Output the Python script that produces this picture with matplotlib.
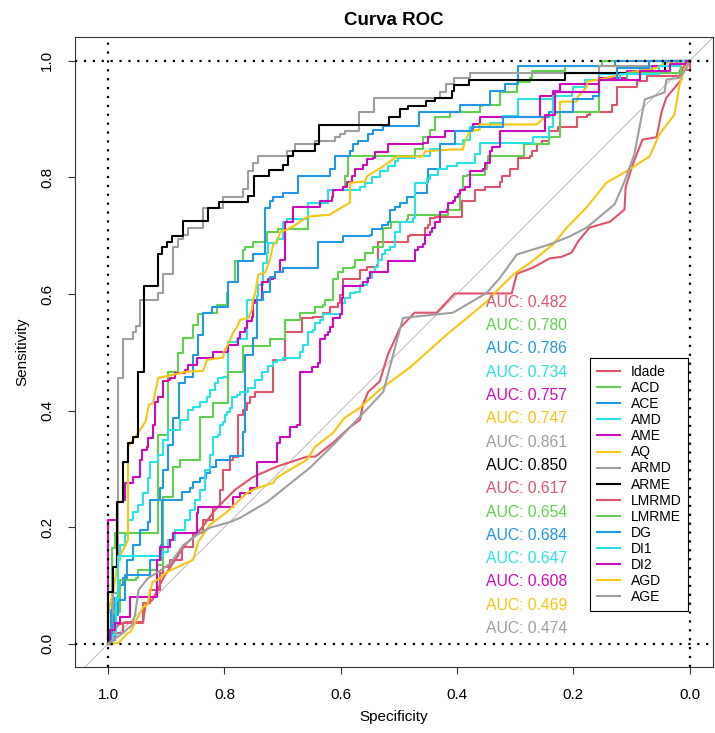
#!/usr/bin/env python3
"""
Curva ROC: 15 ROC curves (pROC-style plot) with AUC labels and legend.
"""
import matplotlib
matplotlib.use("Agg")
import matplotlib.pyplot as plt
from matplotlib.lines import Line2D

plt.rcParams['font.family'] = ['Liberation Sans', 'DejaVu Sans']

names = ["Idade", "ACD", "ACE", "AMD", "AME", "AQ", "ARMD", "ARME",
         "LMRMD", "LMRME", "DG", "DI1", "DI2", "AGD", "AGE"]
auc_values = [0.482, 0.780, 0.786, 0.734, 0.757, 0.747, 0.861, 0.850,
              0.617, 0.654, 0.684, 0.647, 0.608, 0.469, 0.474]
colors = ["#DF536B", "#61D04F", "#2297E6", "#28E2E5", "#CD0BBC", "#F5C710", "#9E9E9E", "black",
          "#DF536B", "#61D04F", "#2297E6", "#28E2E5", "#CD0BBC", "#F5C710", "#9E9E9E"]
# curves drawn as staircases (True) or as plain polylines (False)
stepped = [False, True, True, True, True, False, True, True,
           True, True, True, True, True, False, False]

# specificity / sensitivity pairs
idade_spec = [1.0, 0.993, 0.983, 0.971, 0.940, 0.936, 0.924, 0.911, 0.902, 0.885,
              0.868, 0.842, 0.816, 0.782, 0.751, 0.710, 0.658, 0.644, 0.613, 0.584,
              0.567, 0.562, 0.553, 0.533, 0.519, 0.498, 0.473, 0.435, 0.404, 0.306,
              0.297, 0.270, 0.241, 0.220, 0.203, 0.192, 0.172, 0.137, 0.112, 0.110,
              0.098, 0.081, 0.057, 0.048, 0.040, 0.014, 0.012, 0.0]
idade_sens = [0.0, 0.018, 0.032, 0.037, 0.037, 0.066, 0.075, 0.101, 0.118, 0.144,
              0.169, 0.195, 0.230, 0.264, 0.286, 0.304, 0.321, 0.321, 0.345, 0.372,
              0.384, 0.410, 0.432, 0.450, 0.496, 0.542, 0.568, 0.568, 0.601, 0.601,
              0.635, 0.645, 0.661, 0.664, 0.671, 0.690, 0.714, 0.724, 0.745, 0.783,
              0.822, 0.865, 0.869, 0.913, 0.937, 0.968, 0.988, 1.0]

acd_spec = [1.0, 0.997, 0.993, 0.988, 0.914, 0.897, 0.880, 0.871, 0.854, 0.845,
            0.837, 0.813, 0.796, 0.794, 0.782, 0.768, 0.765, 0.751, 0.727, 0.708,
            0.656, 0.622, 0.596, 0.593, 0.588, 0.473, 0.459, 0.459, 0.450, 0.447,
            0.438, 0.412, 0.361, 0.357, 0.326, 0.297, 0.275, 0.271, 0.215, 0.151, 0.0]
acd_sens = [0.0, 0.023, 0.164, 0.190, 0.358, 0.467, 0.499, 0.525, 0.547, 0.565,
            0.568, 0.582, 0.602, 0.621, 0.656, 0.676, 0.680, 0.690, 0.706, 0.711,
            0.757, 0.779, 0.783, 0.802, 0.836, 0.848, 0.857, 0.869, 0.870, 0.882,
            0.903, 0.913, 0.922, 0.925, 0.946, 0.963, 0.971, 0.982, 0.991, 1.0, 1.0]

ace_spec = [1.0, 0.995, 0.990, 0.983, 0.974, 0.967, 0.957, 0.945, 0.931, 0.928,
            0.911, 0.905, 0.897, 0.888, 0.878, 0.868, 0.854, 0.854, 0.845, 0.837,
            0.821, 0.794, 0.777, 0.751, 0.730, 0.722, 0.716, 0.699, 0.674, 0.619,
            0.610, 0.584, 0.579, 0.570, 0.553, 0.545, 0.527, 0.466, 0.395, 0.344,
            0.318, 0.296, 0.129, 0.0]
ace_sens = [0.0, 0.058, 0.078, 0.101, 0.113, 0.144, 0.169, 0.195, 0.209, 0.247,
            0.267, 0.298, 0.341, 0.388, 0.448, 0.458, 0.470, 0.496, 0.530, 0.568,
            0.578, 0.621, 0.656, 0.668, 0.747, 0.759, 0.767, 0.774, 0.802, 0.814,
            0.836, 0.845, 0.857, 0.862, 0.874, 0.881, 0.889, 0.913, 0.925, 0.948,
            0.960, 0.991, 1.0, 1.0]

amd_spec = [1.0, 0.995, 0.991, 0.986, 0.983, 0.979, 0.971, 0.966, 0.957, 0.948,
            0.940, 0.931, 0.928, 0.914, 0.905, 0.897, 0.876, 0.863, 0.854, 0.842,
            0.830, 0.825, 0.816, 0.811, 0.802, 0.794, 0.778, 0.761, 0.744, 0.742,
            0.734, 0.727, 0.725, 0.710, 0.699, 0.692, 0.656, 0.622, 0.567, 0.558,
            0.546, 0.533, 0.519, 0.507, 0.502, 0.473, 0.447, 0.430, 0.390, 0.378,
            0.344, 0.321, 0.296, 0.232, 0.201, 0.180, 0.155, 0.086, 0.046, 0.0]
amd_sens = [0.0, 0.023, 0.054, 0.078, 0.144, 0.169, 0.187, 0.212, 0.226, 0.238,
            0.259, 0.285, 0.312, 0.324, 0.350, 0.367, 0.384, 0.401, 0.407, 0.415,
            0.424, 0.436, 0.448, 0.456, 0.458, 0.518, 0.522, 0.590, 0.596, 0.616,
            0.654, 0.671, 0.688, 0.694, 0.723, 0.728, 0.757, 0.779, 0.783, 0.791,
            0.800, 0.811, 0.819, 0.828, 0.834, 0.836, 0.848, 0.857, 0.865, 0.886,
            0.894, 0.905, 0.934, 0.946, 0.956, 0.968, 0.977, 0.992, 1.0, 1.0]

ame_spec = [1.0, 1.0, 0.985, 0.974, 0.971, 0.957, 0.945, 0.942, 0.933, 0.931,
            0.923, 0.919, 0.914, 0.905, 0.898, 0.893, 0.885, 0.868, 0.863, 0.847,
            0.820, 0.794, 0.777, 0.773, 0.765, 0.761, 0.753, 0.751, 0.747, 0.735,
            0.725, 0.716, 0.713, 0.704, 0.696, 0.682, 0.636, 0.615, 0.613, 0.596,
            0.589, 0.581, 0.576, 0.562, 0.555, 0.545, 0.541, 0.519, 0.459, 0.450,
            0.421, 0.375, 0.373, 0.361, 0.258, 0.235, 0.223, 0.155, 0.108, 0.065,
            0.022, 0.0]
ame_sens = [0.0, 0.212, 0.243, 0.247, 0.276, 0.286, 0.316, 0.333, 0.338, 0.353,
            0.376, 0.415, 0.424, 0.450, 0.453, 0.456, 0.465, 0.470, 0.479, 0.491,
            0.501, 0.513, 0.525, 0.534, 0.542, 0.553, 0.561, 0.585, 0.590, 0.621,
            0.625, 0.628, 0.637, 0.659, 0.724, 0.749, 0.759, 0.767, 0.779, 0.783,
            0.793, 0.802, 0.814, 0.822, 0.831, 0.834, 0.843, 0.857, 0.860, 0.869,
            0.879, 0.882, 0.891, 0.903, 0.939, 0.948, 0.960, 0.971, 0.982, 0.991,
            0.999, 1.0]

aq_spec = [1.0, 1.0, 0.991, 0.983, 0.966, 0.966, 0.957, 0.945, 0.936, 0.930,
           0.923, 0.919, 0.914, 0.864, 0.837, 0.830, 0.802, 0.801, 0.794, 0.785,
           0.778, 0.773, 0.759, 0.753, 0.751, 0.747, 0.742, 0.730, 0.722, 0.716,
           0.710, 0.704, 0.692, 0.682, 0.670, 0.656, 0.619, 0.613, 0.584, 0.584,
           0.558, 0.555, 0.529, 0.503, 0.459, 0.455, 0.409, 0.390, 0.387, 0.383,
           0.378, 0.361, 0.361, 0.263, 0.253, 0.223, 0.223, 0.194, 0.192, 0.177,
           0.175, 0.155, 0.103, 0.057, 0.034, 0.0]
aq_sens = [0.0, 0.054, 0.092, 0.144, 0.178, 0.338, 0.350, 0.367, 0.381, 0.410,
           0.413, 0.432, 0.456, 0.467, 0.468, 0.487, 0.491, 0.501, 0.513, 0.534,
           0.544, 0.556, 0.559, 0.573, 0.590, 0.602, 0.633, 0.637, 0.659, 0.685,
           0.690, 0.706, 0.711, 0.716, 0.724, 0.733, 0.736, 0.740, 0.757, 0.791,
           0.793, 0.802, 0.818, 0.836, 0.836, 0.845, 0.848, 0.848, 0.860, 0.869,
           0.879, 0.882, 0.891, 0.891, 0.900, 0.913, 0.930, 0.930, 0.939, 0.955,
           0.965, 0.968, 0.980, 0.988, 0.999, 1.0]

armd_spec = [1.0, 0.991, 0.983, 0.974, 0.957, 0.952, 0.945, 0.914, 0.905, 0.888,
             0.880, 0.871, 0.863, 0.837, 0.802, 0.768, 0.759, 0.751, 0.742, 0.692,
             0.679, 0.644, 0.610, 0.601, 0.593, 0.569, 0.543, 0.430, 0.419, 0.405,
             0.378, 0.155, 0.069, 0.0]
armd_sens = [0.0, 0.087, 0.456, 0.523, 0.534, 0.546, 0.590, 0.601, 0.635, 0.680,
             0.695, 0.702, 0.714, 0.747, 0.767, 0.781, 0.811, 0.825, 0.836, 0.846,
             0.857, 0.862, 0.869, 0.874, 0.879, 0.913, 0.937, 0.946, 0.960, 0.970,
             0.980, 0.991, 1.0, 1.0]

arme_spec = [1.0, 1.0, 0.992, 0.985, 0.975, 0.966, 0.957, 0.948, 0.939, 0.915,
             0.907, 0.899, 0.891, 0.872, 0.828, 0.810, 0.759, 0.750, 0.723, 0.699,
             0.690, 0.682, 0.644, 0.637, 0.517, 0.498, 0.484, 0.454, 0.438, 0.409,
             0.405, 0.379, 0.215, 0.042, 0.0]
arme_sens = [0.0, 0.089, 0.132, 0.243, 0.312, 0.345, 0.355, 0.467, 0.613, 0.668,
             0.680, 0.690, 0.699, 0.725, 0.747, 0.758, 0.768, 0.802, 0.812, 0.822,
             0.837, 0.846, 0.858, 0.890, 0.904, 0.917, 0.922, 0.931, 0.937, 0.948,
             0.959, 0.968, 0.980, 1.0, 1.0]

lmrmd_spec = [1.0, 0.993, 0.988, 0.974, 0.940, 0.928, 0.911, 0.905, 0.893, 0.873,
              0.854, 0.837, 0.820, 0.808, 0.802, 0.790, 0.785, 0.777, 0.768, 0.761,
              0.756, 0.747, 0.716, 0.696, 0.667, 0.648, 0.631, 0.619, 0.605, 0.601,
              0.596, 0.567, 0.555, 0.538, 0.536, 0.485, 0.481, 0.455, 0.450, 0.447,
              0.438, 0.392, 0.369, 0.352, 0.326, 0.323, 0.309, 0.296, 0.275, 0.271,
              0.263, 0.254, 0.241, 0.227, 0.194, 0.177, 0.172, 0.134, 0.125, 0.091,
              0.074, 0.017, 0.0]
lmrmd_sens = [0.0, 0.006, 0.018, 0.035, 0.070, 0.092, 0.121, 0.132, 0.144, 0.166,
              0.190, 0.212, 0.235, 0.264, 0.298, 0.316, 0.321, 0.393, 0.401, 0.413,
              0.424, 0.432, 0.487, 0.534, 0.559, 0.561, 0.568, 0.578, 0.585, 0.599,
              0.625, 0.642, 0.647, 0.650, 0.690, 0.699, 0.702, 0.714, 0.719, 0.731,
              0.733, 0.759, 0.779, 0.783, 0.793, 0.802, 0.814, 0.834, 0.836, 0.845,
              0.857, 0.862, 0.879, 0.887, 0.903, 0.908, 0.913, 0.925, 0.955, 0.965,
              0.974, 0.985, 1.0]

lmrme_spec = [1.0, 0.995, 0.991, 0.988, 0.979, 0.952, 0.948, 0.916, 0.905, 0.905,
              0.888, 0.888, 0.876, 0.842, 0.820, 0.794, 0.768, 0.722, 0.696, 0.670,
              0.644, 0.631, 0.627, 0.613, 0.605, 0.596, 0.579, 0.576, 0.558, 0.545,
              0.527, 0.514, 0.486, 0.485, 0.416, 0.395, 0.390, 0.383, 0.352, 0.349,
              0.347, 0.284, 0.241, 0.223, 0.155, 0.108, 0.014, 0.0]
lmrme_sens = [0.0, 0.013, 0.023, 0.054, 0.109, 0.113, 0.126, 0.135, 0.178, 0.252,
              0.255, 0.304, 0.316, 0.389, 0.413, 0.467, 0.511, 0.522, 0.556, 0.568,
              0.578, 0.582, 0.590, 0.625, 0.637, 0.645, 0.647, 0.659, 0.671, 0.681,
              0.714, 0.724, 0.728, 0.736, 0.745, 0.779, 0.802, 0.805, 0.814, 0.825,
              0.836, 0.857, 0.870, 0.913, 0.968, 0.980, 1.0, 1.0]

dg_spec = [1.0, 0.993, 0.990, 0.983, 0.971, 0.928, 0.909, 0.907, 0.873, 0.859,
           0.854, 0.842, 0.832, 0.825, 0.814, 0.790, 0.768, 0.765, 0.751, 0.744,
           0.734, 0.722, 0.713, 0.699, 0.639, 0.596, 0.550, 0.546, 0.529, 0.519,
           0.515, 0.507, 0.498, 0.486, 0.473, 0.452, 0.450, 0.430, 0.404, 0.375,
           0.321, 0.241, 0.201, 0.167, 0.155, 0.125, 0.069, 0.0]
dg_sens = [0.0, 0.032, 0.049, 0.075, 0.118, 0.144, 0.169, 0.247, 0.260, 0.267,
           0.278, 0.285, 0.293, 0.304, 0.316, 0.322, 0.364, 0.496, 0.525, 0.590,
           0.604, 0.630, 0.637, 0.645, 0.690, 0.699, 0.702, 0.711, 0.719, 0.723,
           0.745, 0.749, 0.757, 0.766, 0.774, 0.793, 0.814, 0.857, 0.879, 0.887,
           0.903, 0.913, 0.934, 0.939, 0.968, 0.988, 1.0, 1.0]

di1_spec = [1.0, 0.991, 0.986, 0.983, 0.905, 0.897, 0.885, 0.868, 0.859, 0.851,
            0.842, 0.833, 0.825, 0.820, 0.811, 0.808, 0.802, 0.799, 0.796, 0.790,
            0.787, 0.778, 0.773, 0.759, 0.747, 0.735, 0.725, 0.716, 0.710, 0.699,
            0.670, 0.665, 0.656, 0.648, 0.644, 0.636, 0.631, 0.598, 0.593, 0.584,
            0.576, 0.567, 0.555, 0.546, 0.541, 0.536, 0.529, 0.524, 0.515, 0.507,
            0.498, 0.476, 0.473, 0.452, 0.447, 0.433, 0.418, 0.400, 0.369, 0.361,
            0.270, 0.241, 0.235, 0.203, 0.155, 0.120, 0.052, 0.017, 0.0]
di1_sens = [0.0, 0.015, 0.075, 0.151, 0.157, 0.178, 0.195, 0.212, 0.230, 0.247,
            0.264, 0.298, 0.324, 0.355, 0.358, 0.376, 0.381, 0.393, 0.398, 0.405,
            0.424, 0.427, 0.432, 0.439, 0.453, 0.467, 0.477, 0.484, 0.487, 0.491,
            0.501, 0.513, 0.534, 0.539, 0.551, 0.556, 0.565, 0.585, 0.594, 0.602,
            0.604, 0.616, 0.628, 0.638, 0.647, 0.659, 0.668, 0.676, 0.680, 0.706,
            0.723, 0.731, 0.791, 0.797, 0.805, 0.814, 0.819, 0.825, 0.840, 0.860,
            0.869, 0.887, 0.939, 0.946, 0.968, 0.977, 0.992, 1.0, 1.0]

di2_spec = [1.0, 0.997, 0.988, 0.979, 0.962, 0.916, 0.911, 0.893, 0.888, 0.847,
            0.845, 0.785, 0.773, 0.756, 0.744, 0.710, 0.704, 0.687, 0.675, 0.670,
            0.649, 0.639, 0.636, 0.627, 0.622, 0.619, 0.613, 0.601, 0.598, 0.596,
            0.562, 0.553, 0.550, 0.519, 0.473, 0.467, 0.459, 0.455, 0.447, 0.443,
            0.438, 0.430, 0.418, 0.416, 0.407, 0.404, 0.399, 0.395, 0.387, 0.378,
            0.356, 0.352, 0.344, 0.340, 0.326, 0.249, 0.232, 0.155, 0.086, 0.034,
            0.007, 0.0]
di2_sens = [0.0, 0.023, 0.035, 0.046, 0.080, 0.144, 0.166, 0.178, 0.190, 0.224,
            0.235, 0.252, 0.259, 0.267, 0.312, 0.345, 0.355, 0.372, 0.376, 0.467,
            0.474, 0.482, 0.522, 0.530, 0.535, 0.544, 0.559, 0.565, 0.594, 0.613,
            0.621, 0.628, 0.637, 0.656, 0.676, 0.681, 0.685, 0.702, 0.707, 0.714,
            0.723, 0.740, 0.745, 0.757, 0.759, 0.767, 0.771, 0.779, 0.783, 0.811,
            0.814, 0.825, 0.845, 0.853, 0.879, 0.908, 0.946, 0.968, 0.982, 0.994,
            1.0, 1.0]

agd_spec = [1.0, 0.983, 0.974, 0.967, 0.962, 0.940, 0.933, 0.924, 0.916, 0.899,
            0.854, 0.845, 0.825, 0.796, 0.761, 0.744, 0.716, 0.710, 0.658, 0.644,
            0.613, 0.593, 0.567, 0.533, 0.481, 0.418, 0.349, 0.326, 0.304, 0.271,
            0.235, 0.211, 0.177, 0.143, 0.103, 0.069, 0.052, 0.026, 0.017, 0.009, 0.0]
agd_sens = [0.0, 0.001, 0.010, 0.018, 0.020, 0.063, 0.066, 0.106, 0.109, 0.123,
            0.144, 0.175, 0.204, 0.226, 0.259, 0.267, 0.276, 0.285, 0.316, 0.338,
            0.362, 0.388, 0.405, 0.436, 0.474, 0.530, 0.587, 0.611, 0.633, 0.656,
            0.685, 0.714, 0.749, 0.791, 0.814, 0.836, 0.874, 0.908, 0.960, 0.985, 1.0]

age_spec = [1.0, 0.997, 0.979, 0.959, 0.954, 0.948, 0.931, 0.914, 0.893, 0.871,
            0.847, 0.825, 0.790, 0.773, 0.727, 0.653, 0.613, 0.527, 0.493, 0.407,
            0.349, 0.326, 0.297, 0.241, 0.206, 0.177, 0.129, 0.112, 0.095, 0.077,
            0.043, 0.040, 0.017, 0.005, 0.0]
age_sens = [0.0, 0.003, 0.015, 0.032, 0.049, 0.092, 0.113, 0.123, 0.138, 0.169,
            0.187, 0.199, 0.209, 0.216, 0.243, 0.302, 0.341, 0.432, 0.559, 0.568,
            0.602, 0.628, 0.668, 0.685, 0.699, 0.714, 0.754, 0.793, 0.840, 0.934,
            0.946, 0.968, 0.971, 0.988, 1.0]

curves = [(idade_spec, idade_sens), (acd_spec, acd_sens), (ace_spec, ace_sens),
          (amd_spec, amd_sens), (ame_spec, ame_sens), (aq_spec, aq_sens),
          (armd_spec, armd_sens), (arme_spec, arme_sens), (lmrmd_spec, lmrmd_sens),
          (lmrme_spec, lmrme_sens), (dg_spec, dg_sens), (di1_spec, di1_sens),
          (di2_spec, di2_sens), (agd_spec, agd_sens), (age_spec, age_sens)]

fig = plt.figure(figsize=(7.15, 7.33), dpi=100)
ax = fig.add_axes([0.105, 0.090, 0.892, 0.8595])

# chance line
ax.axline((1.0, 0.0), (0.0, 1.0), color='#BEBEBE', lw=0.75, zorder=1)

for (spec, sens), col, st in zip(curves, colors, stepped):
    if st:
        ax.plot(spec, sens, color=col, lw=1.5, drawstyle='steps-post', zorder=2)
    else:
        ax.plot(spec, sens, color=col, lw=1.5, zorder=2)

# dotted reference lines
for v in (0.0, 1.0):
    ax.axvline(v, color='black', lw=1.6, ls=(0, (1, 3)), zorder=3)
    ax.axhline(v, color='black', lw=1.6, ls=(0, (1, 3)), zorder=3)

for i, (auc, col) in enumerate(zip(auc_values, colors)):
    ax.text(0.35, 0.586 - 0.04 * i, "AUC: %.3f" % auc, color=col,
            fontsize=11.3, ha='left', va='center')

ax.set_xlim(1.057, -0.040)
ax.set_ylim(-0.040, 1.041)
ticks = [1.0, 0.8, 0.6, 0.4, 0.2, 0.0]
ax.set_xticks(ticks)
ax.set_xticklabels(["%.1f" % t for t in ticks])
ax.set_yticks(ticks)
ax.set_yticklabels(["%.1f" % t for t in ticks], rotation=90, va='center')
ax.tick_params(direction='out', length=5, width=0.8, labelsize=11, pad=10, colors='#333333')
ax.tick_params(labelcolor='black')
for sp in ax.spines.values():
    sp.set_color('#333333')
    sp.set_linewidth(0.8)

ax.set_xlabel("Specificity", fontsize=11, labelpad=6)
ax.set_ylabel("Sensitivity", fontsize=11, labelpad=8)
ax.set_title("Curva ROC", fontsize=13.5, fontweight='bold', pad=9)

handles = [Line2D([0], [0], color=c, lw=1.5) for c in colors]
leg = ax.legend(handles, names, loc='lower right', bbox_to_anchor=(0.002, 0.056),
                bbox_transform=ax.transData, fontsize=10, frameon=True, fancybox=False,
                edgecolor='black', framealpha=1, handlelength=1.6, handletextpad=0.8,
                labelspacing=0.15, borderpad=0.5, borderaxespad=0)
leg.get_frame().set_linewidth(0.8)

fig.savefig("out.png", dpi=100)
